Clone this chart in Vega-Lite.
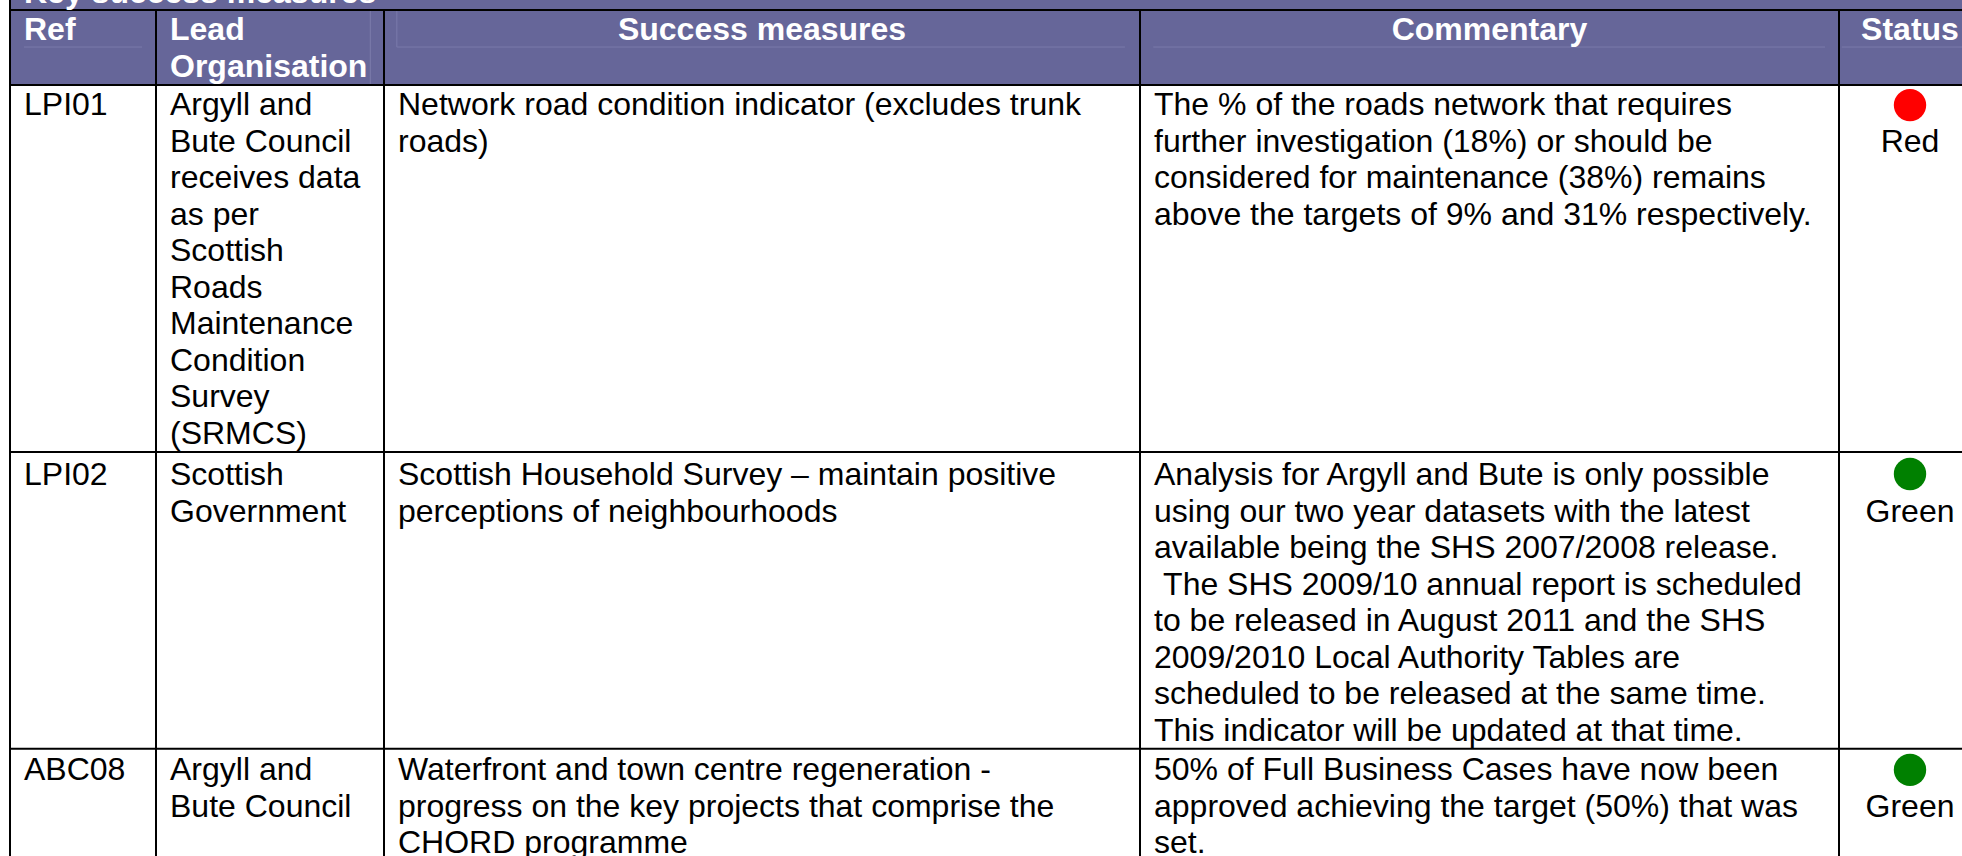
{"$schema":"https://vega.github.io/schema/vega-lite/v6.json","width":1962,"height":856,"padding":0,"autosize":{"type":"none"},"background":"#ffffff","config":{"view":{"stroke":null}},
"datasets":{
"body":[
{"col":0,"line":0,"text":"LPI01"},{"col":1,"line":0,"text":"Argyll and"},{"col":1,"line":1,"text":"Bute Council"},{"col":1,"line":2,"text":"receives data"},{"col":1,"line":3,"text":"as per"},{"col":1,"line":4,"text":"Scottish"},{"col":1,"line":5,"text":"Roads"},{"col":1,"line":6,"text":"Maintenance"},{"col":1,"line":7,"text":"Condition"},{"col":1,"line":8,"text":"Survey"},{"col":1,"line":9,"text":"(SRMCS)"},
{"col":2,"line":0,"text":"Network road condition indicator (excludes trunk"},{"col":2,"line":1,"text":"roads)"},
{"col":3,"line":0,"text":"The % of the roads network that requires"},{"col":3,"line":1,"text":"further investigation (18%) or should be"},{"col":3,"line":2,"text":"considered for maintenance (38%) remains"},{"col":3,"line":3,"text":"above the targets of 9% and 31% respectively."},
{"col":0,"line":10,"text":"LPI02"},{"col":1,"line":10,"text":"Scottish"},{"col":1,"line":11,"text":"Government"},
{"col":2,"line":10,"text":"Scottish Household Survey – maintain positive"},{"col":2,"line":11,"text":"perceptions of neighbourhoods"},
{"col":3,"line":10,"text":"Analysis for Argyll and Bute is only possible"},{"col":3,"line":11,"text":"using our two year datasets with the latest"},{"col":3,"line":12,"text":"available being the SHS 2007/2008 release."},{"col":3.013,"line":13,"text":"The SHS 2009/10 annual report is scheduled"},{"col":3,"line":14,"text":"to be released in August 2011 and the SHS"},{"col":3,"line":15,"text":"2009/2010 Local Authority Tables are"},{"col":3,"line":16,"text":"scheduled to be released at the same time."},{"col":3,"line":17,"text":"This indicator will be updated at that time."},
{"col":0,"line":18,"text":"ABC08"},{"col":1,"line":18,"text":"Argyll and"},{"col":1,"line":19,"text":"Bute Council"},
{"col":2,"line":18,"text":"Waterfront and town centre regeneration -"},{"col":2,"line":19,"text":"progress on the key projects that comprise the"},{"col":2,"line":20,"text":"CHORD programme"},
{"col":3,"line":18,"text":"50% of Full Business Cases have now been"},{"col":3,"line":19,"text":"approved achieving the target (50%) that was"},{"col":3,"line":20,"text":"set."}
],
"head":[{"col":0,"line":-3,"text":"Key success measures"},{"col":0,"line":-2,"text":"Ref"},{"col":1,"line":-2,"text":"Lead"},{"col":1,"line":-1,"text":"Organisation"}],
"headCentre":[{"col":2.5,"line":-2,"text":"Success measures"},{"col":3.5,"line":-2,"text":"Commentary"},{"col":4.5,"line":-2,"text":"Status"}],
"status":[{"col":4.5,"line":-0.26,"label_line":1,"status":"Red"},{"col":4.5,"line":9.73,"label_line":11,"status":"Green"},{"col":4.5,"line":17.74,"label_line":19,"status":"Green"}],
"hlines":[{"col":0,"col2":5,"line":-2.81},{"col":0,"col2":5,"line":-0.79},{"col":0,"col2":5,"line":9.195},{"col":0,"col2":5,"line":17.2}],
"vlines":[{"col":0,"line":-3.08,"line2":20.2},{"col":1,"line":-2.81,"line2":20.2},{"col":2,"line":-2.81,"line2":20.2},{"col":3,"line":-2.81,"line2":20.2},{"col":4,"line":-2.81,"line2":20.2}],
"faintH":[{"col":0.096,"col2":0.904,"line":-1.81},{"col":2.017,"col2":2.98,"line":-1.81},{"col":3.019,"col2":3.98,"line":-1.81},{"col":4.02,"col2":5,"line":-1.81}],
"faintV":[{"col":1.94,"line":-2.81,"line2":-0.79},{"col":2.017,"line":-2.81,"line2":-1.81}]
},
"encoding":{
"x":{"field":"col","type":"quantitative","axis":null,"scale":{"domain":[0,1,2,3,4,5],"range":[10,156,384,1140,1839,1981],"nice":false,"zero":false}},
"y":{"field":"line","type":"quantitative","axis":null,"scale":{"domain":[-3,-2,-1,0,9,10,17,18,20],"range":[3,40,77,115,444,485,741,780,853],"nice":false,"zero":false}}
},
"layer":[
{"data":{"values":[{"col":0,"col2":5,"line":-3.08,"line2":-0.79}]},"mark":{"type":"rect","fill":"#666699"},"encoding":{"x2":{"field":"col2"},"y2":{"field":"line2"}}},
{"data":{"name":"faintH"},"mark":{"type":"rule","stroke":"#7b7bab","strokeWidth":1},"encoding":{"x2":{"field":"col2"}}},
{"data":{"name":"faintV"},"mark":{"type":"rule","stroke":"#7b7bab","strokeWidth":1},"encoding":{"y2":{"field":"line2"}}},
{"data":{"name":"hlines"},"mark":{"type":"rule","stroke":"#000000","strokeWidth":2},"encoding":{"x2":{"field":"col2"}}},
{"data":{"name":"vlines"},"mark":{"type":"rule","stroke":"#000000","strokeWidth":2},"encoding":{"y2":{"field":"line2"}}},
{"data":{"name":"body"},"mark":{"type":"text","align":"left","baseline":"alphabetic","dx":14,"font":"Liberation Sans","fontSize":32,"fill":"#000000"},"encoding":{"text":{"field":"text"}}},
{"data":{"name":"head"},"mark":{"type":"text","align":"left","baseline":"alphabetic","dx":14,"font":"Liberation Sans","fontSize":32,"fontWeight":"bold","fill":"#ffffff"},"encoding":{"text":{"field":"text"}}},
{"data":{"name":"headCentre"},"mark":{"type":"text","align":"center","baseline":"alphabetic","font":"Liberation Sans","fontSize":32,"fontWeight":"bold","fill":"#ffffff"},"encoding":{"text":{"field":"text"}}},
{"data":{"name":"status"},"mark":{"type":"text","align":"center","baseline":"alphabetic","font":"Liberation Sans","fontSize":32,"fill":"#000000"},"encoding":{"y":{"field":"label_line","type":"quantitative"},"text":{"field":"status"}}},
{"data":{"name":"status"},"mark":{"type":"point","filled":true,"shape":"circle","size":1050,"opacity":1},"encoding":{"color":{"field":"status","type":"nominal","legend":null,"scale":{"domain":["Red","Green"],"range":["#ff0000","#008000"]}}}}
]}
